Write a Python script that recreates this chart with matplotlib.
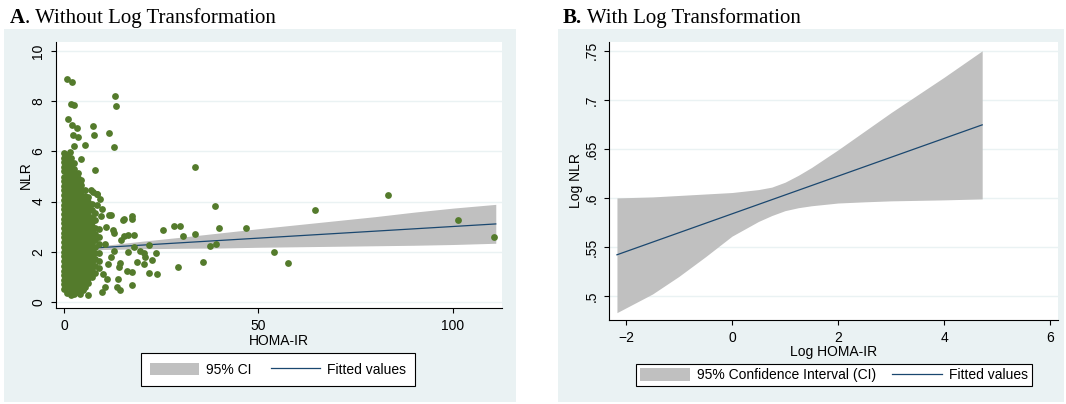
import matplotlib
matplotlib.use("Agg")
import matplotlib.pyplot as plt
from matplotlib.patches import Rectangle, Patch
from matplotlib.lines import Line2D

# ---- panel A data (HOMA-IR vs NLR) ----
# dense cloud near the origin, one list of NLR values per HOMA-IR column
blob_homa = [0.0, 0.9, 1.8, 2.7, 3.6, 4.5, 5.4, 6.3, 7.2, 8.1, 9.0]
blob_nlr = [
    [0.52, 0.7, 0.88, 1.07, 1.25, 1.45, 1.63, 1.82, 2.0, 2.2, 2.38, 2.57, 2.75, 2.95, 3.13,
     3.32, 3.5, 3.7, 3.88, 4.07, 4.25, 4.45, 4.63, 4.82, 5.0, 5.2, 5.38, 5.57, 5.75, 5.92],
    [0.36, 0.6, 0.79, 0.97, 1.16, 1.35, 1.54, 1.72, 1.91, 2.1, 2.29, 2.47, 2.66, 2.85, 3.04,
     3.22, 3.41, 3.6, 3.79, 3.97, 4.16, 4.35, 4.54, 4.72, 4.91, 5.1, 5.29, 5.47, 5.66, 5.85],
    [0.26, 0.45, 0.65, 0.84, 1.02, 1.21, 1.4, 1.59, 1.77, 1.96, 2.15, 2.34, 2.52, 2.71, 2.9,
     3.09, 3.27, 3.46, 3.65, 3.84, 4.02, 4.21, 4.4, 4.59, 4.77, 4.96, 5.15, 5.34, 5.52, 5.72],
    [0.32, 0.52, 0.71, 0.9, 1.09, 1.28, 1.47, 1.66, 1.85, 2.04, 2.23, 2.42, 2.61, 2.8, 2.99,
     3.18, 3.37, 3.56, 3.75, 3.94, 4.13, 4.32, 4.51, 4.7, 4.89, 5.08, 5.3, 5.55],
    [0.38, 0.58, 0.77, 0.96, 1.15, 1.34, 1.53, 1.72, 1.91, 2.1, 2.29, 2.48, 2.67, 2.86, 3.05,
     3.24, 3.43, 3.62, 3.81, 4.0, 4.19, 4.38, 4.57, 4.76, 4.95, 5.15],
    [0.46, 0.66, 0.85, 1.04, 1.23, 1.42, 1.61, 1.8, 1.99, 2.18, 2.37, 2.56, 2.75, 2.94, 3.13,
     3.32, 3.51, 3.7, 3.89, 4.08, 4.27, 4.46, 4.65, 4.85],
    [0.6, 0.8, 0.99, 1.18, 1.37, 1.56, 1.75, 1.94, 2.13, 2.32, 2.51, 2.7, 2.89, 3.08, 3.27,
     3.46, 3.65, 3.84, 4.03, 4.22, 4.45],
    [0.75, 0.95, 1.14, 1.33, 1.52, 1.71, 1.9, 2.09, 2.28, 2.47, 2.66, 2.85, 3.04, 3.23, 3.42,
     3.61, 3.8, 4.0, 4.2],
    [1.0, 1.2, 1.4, 1.6, 1.8, 2.0, 2.2, 2.4, 2.6, 2.8, 3.0, 3.2, 3.4, 3.65, 3.9],
    [1.15, 1.45, 1.7, 1.95, 2.2, 2.45, 2.7, 2.95, 3.25, 3.55],
    [1.35, 1.65, 1.95, 2.3, 2.6, 2.9],
]

# scattered points outside the dense cloud
out_homa = [0.7, 2.05, 1.7, 2.6, 13.2, 13.4, 1.0, 2.0, 3.4, 2.3, 3.7, 7.4, 7.8, 11.5, 12.9,
            2.7, 5.3, 1.5, 4.4, 0.6, 8.0, 33.8, 6.9, 8.4, 83.2, 7.4, 8.6, 12.0, 15.4, 8.6,
            9.5, 11.6, 15.1, 17.6, 17.6, 38.7, 64.6, 25.5, 28.3, 29.7, 30.6, 33.6, 39.9, 46.9,
            101.4, 110.5, 37.5, 39.1, 53.9, 57.7, 35.8, 29.2, 24.0, 21.8, 21.9, 23.6, 22.7,
            20.8, 20.6, 18.9, 17.6, 17.6, 16.3, 16.5, 18.0, 14.4, 14.2, 13.8, 13.6, 14.4, 9.7,
            6.3, 12.9, 12.6, 14.6, 15.5, 16.4, 12.1, 12.8, 10.1, 11.0, 19.5, 20.5, 17.9, 10.5,
            11.2, 10.8, 9.8, 10.6, 5.0, 4.0, 9.3]
out_nlr = [8.9, 8.77, 7.88, 7.84, 8.2, 7.79, 7.3, 7.04, 6.92, 6.64, 6.59, 7.0, 6.67, 6.73, 6.16,
           6.21, 6.25, 5.97, 5.68, 5.52, 5.27, 5.37, 4.45, 4.32, 4.25, 4.4, 4.3, 3.48, 3.3, 3.88,
           3.41, 3.45, 3.28, 3.41, 3.32, 3.81, 3.67, 2.88, 3.01, 3.01, 2.64, 2.72, 2.96, 2.96,
           3.28, 2.59, 2.24, 2.32, 1.99, 1.55, 1.6, 1.41, 1.11, 1.17, 2.28, 1.97, 1.68,
           1.81, 1.52, 1.61, 1.21, 0.68, 1.24, 2.01, 2.21, 1.55, 1.4, 0.92, 0.59, 0.48, 0.41,
           0.28, 2.75, 2.88, 2.48, 2.61, 2.68, 1.8, 2.05, 1.1, 0.9, 2.05, 1.95, 2.68, 2.3,
           1.5, 3.0, 3.7, 0.6, 0.48, 0.3, 4.1]

# linear fit with 95% CI
fit_a_x = [0, 111]
fit_a_y = [2.08, 3.11]
ci_a_x = [0, 10, 20, 30, 40, 50, 60, 70, 80, 90, 100, 111]
ci_a_lo = [2.03, 2.09, 2.12, 2.14, 2.15, 2.18, 2.20, 2.22, 2.24, 2.26, 2.29, 2.34]
ci_a_hi = [2.13, 2.25, 2.42, 2.58, 2.75, 2.92, 3.08, 3.24, 3.40, 3.58, 3.74, 3.89]

# ---- panel B data (log HOMA-IR vs log NLR) ----
fit_b_x = [-2.17, 4.72]
fit_b_y = [0.542, 0.6745]
ci_b_x = [-2.17, -1.5, -1.0, -0.5, 0.0, 0.5, 0.75, 1.0, 1.25, 1.5, 2.0, 2.5, 3.0, 3.5,
          4.0, 4.72]
ci_b_lo = [0.483, 0.502, 0.520, 0.540, 0.561, 0.576, 0.582, 0.587, 0.590, 0.592, 0.5948,
           0.596, 0.597, 0.5975, 0.598, 0.599]
ci_b_hi = [0.600, 0.601, 0.6025, 0.604, 0.6055, 0.6085, 0.611, 0.616, 0.623, 0.631, 0.649,
           0.668, 0.687, 0.705, 0.723, 0.750]

a_xticks = [0, 50, 100]
a_yticks = [0, 2, 4, 6, 8, 10]
b_xticks = [-2, 0, 2, 4, 6]
b_yticks = [0.5, 0.55, 0.6, 0.65, 0.7, 0.75]
b_ylabels = [".5", ".55", ".6", ".65", ".7", ".75"]

BG = "#EAF2F3"
GREEN = "#547B2C"
BAND = "#C0C0C0"
NAVY = "#1A476F"
SANS = "Liberation Sans"
SERIF = "Liberation Serif"

W, H = 1066, 404
plt.rcParams["font.family"] = SANS
fig = plt.figure(figsize=(W / 100, H / 100), dpi=100)


def frac(l, t, r, b):
    return [l / W, 1 - b / H, (r - l) / W, (b - t) / H]


for l, t, r, b in [(4, 29, 516, 402), (558, 29, 1064, 402)]:
    x0, y0, w, h = frac(l, t, r, b)
    fig.patches.append(Rectangle((x0, y0), w, h, transform=fig.transFigure,
                                 facecolor=BG, edgecolor="none", zorder=-10))


def style(ax):
    for s in ["top", "right"]:
        ax.spines[s].set_visible(False)
    for s in ["left", "bottom"]:
        ax.spines[s].set_color("black")
        ax.spines[s].set_linewidth(0.8)
    ax.tick_params(direction="out", length=3.6, width=0.8, labelsize=10,
                   colors="black", pad=4)
    ax.grid(axis="y", color=BG, lw=1.0)
    ax.set_axisbelow(True)


def title(x, bold, rest):
    t = fig.text(x / W, 1 - 23 / H, bold, fontsize=15, fontweight="bold",
                 family=SERIF, va="baseline")
    bb = t.get_window_extent(fig.canvas.get_renderer())
    fig.text(bb.x1 / W, 1 - 23 / H, rest, fontsize=15, family=SERIF, va="baseline")


# ---- panel A ----
ax = fig.add_axes(frac(56, 42, 502, 308))
style(ax)
ax.fill_between(ci_a_x, ci_a_lo, ci_a_hi, color=BAND, lw=0, zorder=2)
ax.plot(fit_a_x, fit_a_y, color=NAVY, lw=0.9, zorder=3)
bx, by = [], []
for hx, col in zip(blob_homa, blob_nlr):
    bx += [hx] * len(col)
    by += col
ax.scatter(bx + out_homa, by + out_nlr, s=24, color=GREEN, lw=0, zorder=4)
ax.set_xlim(-2.05, 112.6)
ax.set_ylim(-0.24, 10.36)
ax.set_xticks(a_xticks)
ax.set_yticks(a_yticks)
ax.set_yticklabels([str(v) for v in a_yticks], rotation=90, va="center")
ax.set_xlabel("HOMA-IR", fontsize=10, labelpad=1)
ax.set_ylabel("NLR", fontsize=10, labelpad=-1)

leg = fig.legend([Patch(facecolor=BAND, edgecolor="none"), Line2D([], [], color=NAVY, lw=0.9)],
                 ["95% CI", "Fitted values"], loc="center",
                 bbox_to_anchor=(278 / W, 1 - 369.5 / H), ncol=2, fancybox=False,
                 edgecolor="black", framealpha=1, fontsize=10, handlelength=3.5,
                 handleheight=1.0, handletextpad=0.5, columnspacing=1.4, borderpad=0.7)
leg.get_frame().set_linewidth(0.8)

# ---- panel B ----
bx_ax = fig.add_axes(frac(609, 42, 1058, 320))
style(bx_ax)
bx_ax.fill_between(ci_b_x, ci_b_lo, ci_b_hi, color=BAND, lw=0, zorder=2)
bx_ax.plot(fit_b_x, fit_b_y, color=NAVY, lw=0.9, zorder=3)
bx_ax.set_xlim(-2.32, 6.15)
bx_ax.set_ylim(0.4755, 0.759)
bx_ax.set_xticks(b_xticks)
bx_ax.set_yticks(b_yticks)
bx_ax.set_yticklabels(b_ylabels, rotation=90, va="center")
bx_ax.set_xlabel("Log HOMA-IR", fontsize=10, labelpad=0)
bx_ax.set_ylabel("Log NLR", fontsize=10, labelpad=1)

leg = fig.legend([Patch(facecolor=BAND, edgecolor="none"), Line2D([], [], color=NAVY, lw=0.9)],
                 ["95% Confidence Interval (CI)", "Fitted values"], loc="center",
                 bbox_to_anchor=(834 / W, 1 - 375 / H), ncol=2, fancybox=False,
                 edgecolor="black", framealpha=1, fontsize=10, handlelength=3.6,
                 handleheight=1.1, handletextpad=0.5, columnspacing=1.1, borderpad=0.3)
leg.get_frame().set_linewidth(0.8)

title(10, "A", ". Without Log Transformation")
title(563, "B.", " With Log Transformation")

fig.savefig("out.png", dpi=100)
